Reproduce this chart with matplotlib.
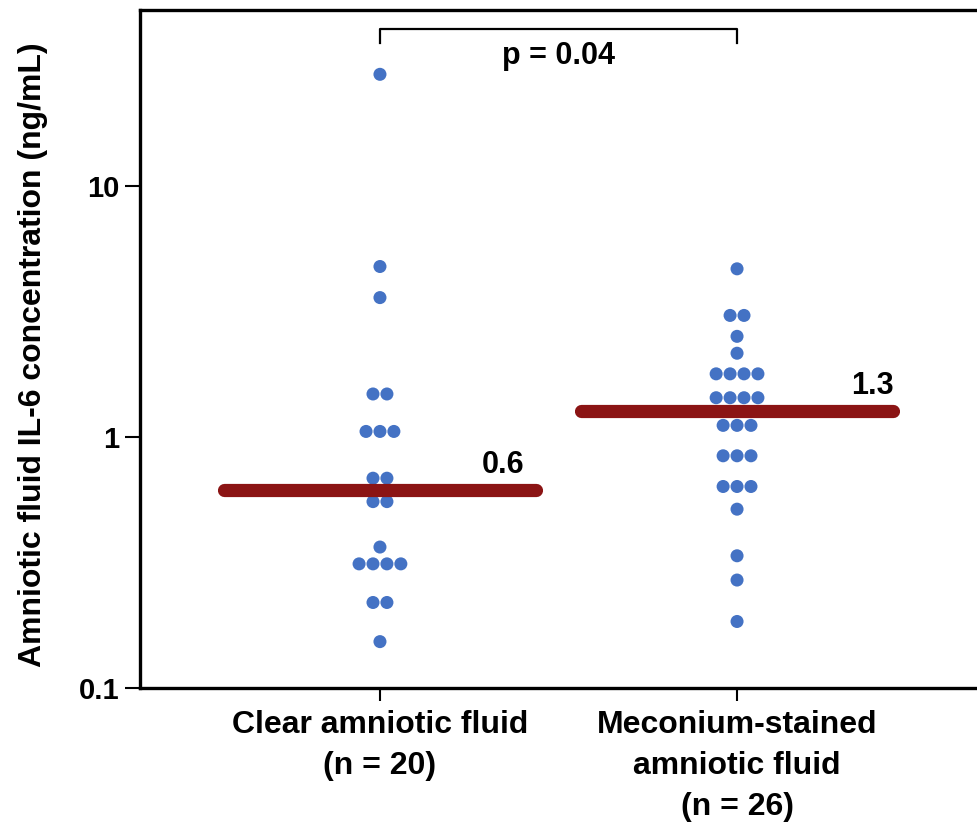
import numpy as np
import matplotlib.pyplot as plt

plt.rcParams['font.family'] = ['Liberation Sans', 'DejaVu Sans']

# IL-6 values (ng/mL)
clear_vals = [27.7, 4.76, 3.58, 1.48, 1.48, 1.05, 1.05, 1.05, 0.684, 0.684,
              0.552, 0.552, 0.364, 0.312, 0.312, 0.312, 0.312, 0.219, 0.219, 0.153]
mec_vals = [4.66, 3.04, 3.04, 2.51, 2.15, 1.78, 1.78, 1.78, 1.78, 1.43, 1.43, 1.43, 1.43,
            1.11, 1.11, 1.11, 0.84, 0.84, 0.84, 0.634, 0.634, 0.634, 0.515, 0.336, 0.269, 0.184]
medians = [0.615, 1.27]
median_labels = ['0.6', '1.3']
groups = ['Clear amniotic fluid\n(n = 20)', 'Meconium-stained\namniotic fluid\n(n = 26)']
p_text = 'p = 0.04'

dot_col = '#4472C4'
med_col = '#8B1414'
gap = 0.039
label_dx = [0.405, 0.44]


def swarm_x(center, vals):
    # put equal values side by side, centred on the group
    uniq = []
    for v in vals:
        if v not in uniq:
            uniq.append(v)
    xs, ys = [], []
    for u in uniq:
        n = vals.count(u)
        for i in range(n):
            xs.append(center + (i - (n - 1) / 2) * gap)
            ys.append(u)
    return xs, ys


fig = plt.figure(figsize=(9.77, 8.23), dpi=100)
ax = fig.add_axes([0.1433, 0.164, 0.8567, 0.824])

for k, vals in enumerate([clear_vals, mec_vals]):
    xs, ys = swarm_x(k, vals)
    ax.scatter(xs, ys, s=88, color=dot_col, edgecolors='none', zorder=2)
    ax.plot([k - 0.437, k + 0.437], [medians[k], medians[k]], color=med_col,
            lw=9.5, solid_capstyle='round', zorder=3)
    ax.annotate(median_labels[k], (k + label_dx[k], medians[k]), xytext=(0, 7),
                textcoords='offset points', ha='right', va='bottom',
                fontsize=22, fontweight='bold')

# significance bracket
ax.plot([0, 0, 1, 1], [37.0, 41.8, 41.8, 37.0], color='black', lw=1.6, clip_on=False)
ax.text(0.5, 37.5, p_text, ha='center', va='top', fontsize=22, fontweight='bold')

ax.set_yscale('log')
ax.set_ylim(0.1, 50)
ax.set_xlim(-0.672, 1.672)
ax.set_yticks([0.1, 1, 10])
ax.set_yticklabels(['0.1', '1', '10'], fontsize=21, fontweight='bold')
ax.yaxis.set_minor_locator(plt.NullLocator())
ax.set_xticks([0, 1])
ax.set_xticklabels(groups, fontsize=23, fontweight='bold', linespacing=1.48)
ax.set_ylabel('Amniotic fluid IL-6 concentration (ng/mL)', fontsize=23, fontweight='bold')
ax.yaxis.set_label_coords(-0.11, 0.492)

for s in ['left', 'top', 'bottom']:
    ax.spines[s].set_linewidth(2.4)
ax.spines['right'].set_visible(False)
ax.tick_params(axis='both', width=1.5, direction='out')
ax.tick_params(axis='y', length=11, pad=4)
ax.tick_params(axis='x', length=9, pad=7)

fig.savefig('out.png', dpi=100)
